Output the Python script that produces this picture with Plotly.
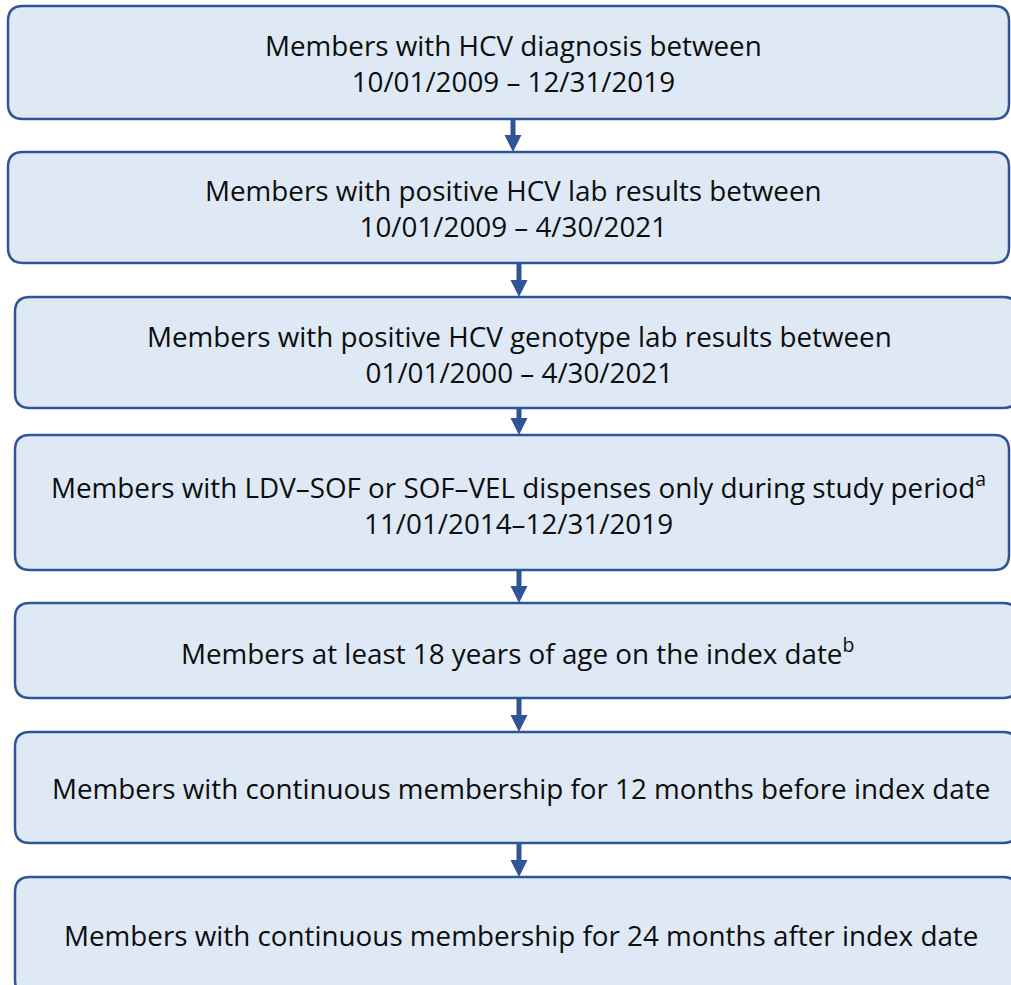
import plotly.graph_objects as go

# flowchart steps (top to bottom)
steps = [
    "Members with HCV diagnosis between<br>10/01/2009 – 12/31/2019",
    "Members with positive HCV lab results between<br>10/01/2009 – 4/30/2021",
    "Members with positive HCV genotype lab results between<br>01/01/2000 – 4/30/2021",
    "Members with LDV–SOF or SOF–VEL dispenses only during study period<sup>a</sup><br>11/01/2014–12/31/2019",
    "Members at least 18 years of age on the index date<sup>b</sup>",
    "Members with continuous membership for 12 months before index date",
    "Members with continuous membership for 24 months after index date",
]

# box geometry in pixel space: left, right, top, bottom
box_left = [8, 8, 15, 15, 15, 15, 15]
box_right = [1009, 1009, 1018, 1009, 1018, 1018, 1018]
box_top = [6, 152, 297, 435, 603, 732, 877]
box_bottom = [119, 263, 408, 570, 698, 843, 995]
text_x = [513, 513, 519, 518, 517, 521, 521]
text_y = [63, 208, 354, 503, 651, 788, 935]

W, H = 1011, 985
edge = "#2F5597"
fill = "#DEE9F5"
r = 15


def rounded(x0, x1, y0, y1, r):
    return (f"M {x0+r},{y0} L {x1-r},{y0} Q {x1},{y0} {x1},{y0+r} "
            f"L {x1},{y1-r} Q {x1},{y1} {x1-r},{y1} L {x0+r},{y1} "
            f"Q {x0},{y1} {x0},{y1-r} L {x0},{y0+r} Q {x0},{y0} {x0+r},{y0} Z")


fig = go.Figure()
shapes = []
for i in range(len(steps)):
    shapes.append(dict(type="path", xref="x", yref="y",
                       path=rounded(box_left[i], box_right[i], box_top[i], box_bottom[i], r),
                       line=dict(color=edge, width=2.5), fillcolor=fill, layer="below"))

# arrows between boxes
arrow_x = [513, 519, 519, 519, 519, 519]
for i in range(len(steps) - 1):
    y0 = box_bottom[i] + 1
    y1 = box_top[i + 1]
    ax = arrow_x[i]
    head = 17
    shapes.append(dict(type="rect", xref="x", yref="y", x0=ax - 2.5, x1=ax + 2.5,
                       y0=y0, y1=y1 - head + 1, fillcolor=edge, line=dict(width=0)))
    shapes.append(dict(type="path", xref="x", yref="y",
                       path=f"M {ax-8.5},{y1-head} L {ax+8.5},{y1-head} L {ax},{y1} Z",
                       fillcolor=edge, line=dict(width=0)))

annotations = []
for i, s in enumerate(steps):
    annotations.append(dict(x=text_x[i], y=text_y[i], xref="x", yref="y", text=s,
                            showarrow=False, align="center",
                            font=dict(family="Open Sans", size=27.8, color="#0d0d0d")))

fig.update_layout(
    width=W, height=H,
    margin=dict(l=0, r=0, t=0, b=0),
    paper_bgcolor="white", plot_bgcolor="white",
    xaxis=dict(range=[0, W], visible=False, fixedrange=True),
    yaxis=dict(range=[H, 0], visible=False, fixedrange=True),
    shapes=shapes, annotations=annotations, showlegend=False,
)

# drop the default page margin so the figure sits at the window's corner
fig.write_html("out.html", config={"displayModeBar": False},
               post_script="document.body.style.margin='0';document.body.style.overflow='hidden';")
